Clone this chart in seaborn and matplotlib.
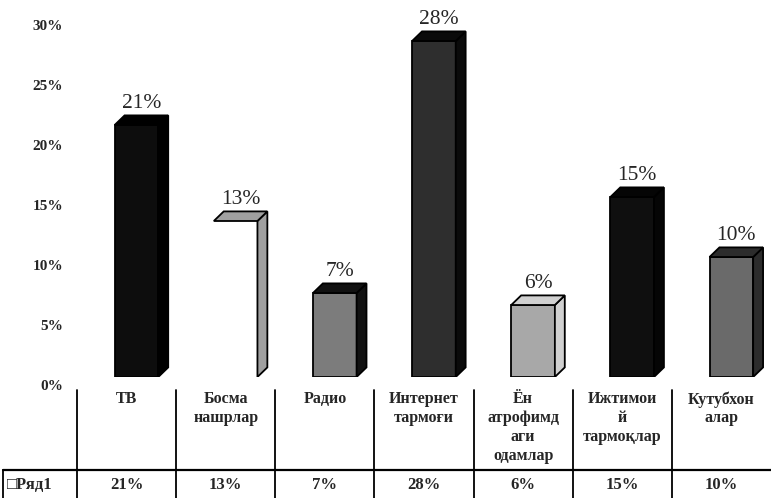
import matplotlib
matplotlib.use("Agg")
import matplotlib.pyplot as plt
import seaborn as sns
from matplotlib.lines import Line2D
from matplotlib.patches import Polygon
from matplotlib.ticker import PercentFormatter
from matplotlib.transforms import ScaledTranslation

categories = ["ТВ", "Босма\nнашрлар", "Радио", "Интернет\nтармоғи",
              "Ён\nатрофимд\nаги\nодамлар", "Ижтимои\nй\nтармоқлар", "Кутубхон\nалар"]
values = [0.21, 0.13, 0.07, 0.28, 0.06, 0.15, 0.10]
value_labels = ["21%", "13%", "7%", "28%", "6%", "15%", "10%"]
series_name = "Ряд1"
front_colors = ["#0d0d0d", "#ffffff", "#7c7c7c", "#2e2e2e", "#a8a8a8", "#0f0f0f", "#6a6a6a"]
side_colors = ["#000000", "#a0a0a0", "#111111", "#0a0a0a", "#d0d0d0", "#050505", "#2c2c2c"]

sns.set_style("white")
serif = ["Liberation Serif", "DejaVu Serif"]
plt.rcParams["font.family"] = serif

W, H = 771, 498
fig = plt.figure(figsize=(W / 100, H / 100), dpi=100)
# value axis: 0% at y=377 px, 30% at y=17 px
ax = fig.add_axes([77 / W, (H - 377) / H, 1 - 77 / W, 360 / H])

sns.barplot(x=list(range(len(values))), y=values, hue=list(range(len(values))),
            palette=front_colors, legend=False, width=0.44,
            edgecolor="black", linewidth=1.3, ax=ax)

ax.set_ylim(0, 0.30)
ax.set_xlim(-0.5, len(values) - 0.5)
ax.yaxis.set_major_formatter(PercentFormatter(1.0, decimals=0))
ax.set_yticks([0, 0.05, 0.10, 0.15, 0.20, 0.25, 0.30])
ax.tick_params(axis="y", length=0, pad=10, labelsize=11)
shift = ScaledTranslation(0, -8 / 100, fig.dpi_scale_trans)
for t in ax.get_yticklabels():
    t.set_fontweight("bold")
    t.set_transform(t.get_transform() + shift)
ax.set_xticks([])
ax.set_xlabel("")
for s in ax.spines.values():
    s.set_visible(False)

# fake 3D depth on each bar
dx, dy = 0.10, 0.008
for i, (p, side, lab) in enumerate(zip(ax.patches, side_colors, value_labels)):
    p.set_x(p.get_x() + 0.1)
    x0, w, h = p.get_x(), p.get_width(), p.get_height()
    if front_colors[i] == "#ffffff":
        p.set_linewidth(0)
    ax.add_patch(Polygon([(x0 + w, 0), (x0 + w + dx, dy), (x0 + w + dx, h + dy), (x0 + w, h)],
                         closed=True, facecolor=side, edgecolor="black", lw=1.3))
    ax.add_patch(Polygon([(x0, h), (x0 + dx, h + dy), (x0 + w + dx, h + dy), (x0 + w, h)],
                         closed=True, facecolor=side, edgecolor="black", lw=1.3))
    ax.text(x0 + (w + dx) / 2, h + dy + 0.002, lab, ha="center", va="bottom", fontsize=15.5)

# data table under the chart
tr = ax.get_xaxis_transform()
px = 1 / 360  # one pixel in axes fraction (vertical)
for i, (cat, lab) in enumerate(zip(categories, value_labels)):
    ax.text(i, -(391 - 377) * px, cat, transform=tr, ha="center", va="top", fontsize=11.5,
            fontweight="bold", linespacing=1.24, clip_on=False)
    ax.text(i, -(485 - 377) * px, lab, transform=tr, ha="center", va="center",
            fontsize=12, fontweight="bold", clip_on=False)
    ax.add_line(Line2D([i - 0.5, i - 0.5], [-(390 - 377) * px, -(H - 377 + 2) * px],
                       transform=tr, color="black", lw=1.3, clip_on=False))

fig.add_artist(Line2D([3 / W, 1], [(H - 470) / H] * 2, transform=fig.transFigure,
                      color="black", lw=1.6))
fig.add_artist(Line2D([3 / W, 3 / W], [0, (H - 470) / H], transform=fig.transFigure,
                      color="black", lw=1.3))
fig.text(7 / W, (H - 485) / H, "\u25a1" + series_name, ha="left", va="center",
         fontsize=12, fontweight="bold")

fig.savefig("out.png", dpi=100)
